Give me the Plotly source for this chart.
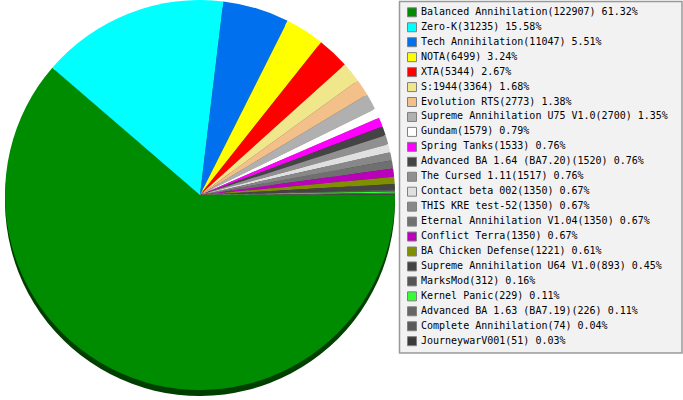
import plotly.graph_objects as go

names = ["Balanced Annihilation", "Zero-K", "Tech Annihilation", "NOTA", "XTA", "S:1944",
         "Evolution RTS", "Supreme Annihilation U75 V1.0", "Gundam", "Spring Tanks",
         "Advanced BA 1.64 (BA7.20)", "The Cursed 1.11", "Contact beta 002", "THIS KRE test-52",
         "Eternal Annihilation V1.04", "Conflict Terra", "BA Chicken Defense",
         "Supreme Annihilation U64 V1.0", "MarksMod", "Kernel Panic", "Advanced BA 1.63 (BA7.19)",
         "Complete Annihilation", "JourneywarV001"]
counts = [122907, 31235, 11047, 6499, 5344, 3364, 2773, 2700, 1579, 1533, 1520, 1517, 1350,
          1350, 1350, 1350, 1221, 893, 312, 229, 226, 74, 51]
percents = ["61.32%", "15.58%", "5.51%", "3.24%", "2.67%", "1.68%", "1.38%", "1.35%", "0.79%",
            "0.76%", "0.76%", "0.76%", "0.67%", "0.67%", "0.67%", "0.67%", "0.61%", "0.45%",
            "0.16%", "0.11%", "0.11%", "0.04%", "0.03%"]
colors = ["#008c00", "#00ffff", "#0070ee", "#ffff00", "#ff0000", "#f0e68c", "#f4c08a", "#b0b0b0",
          "#ffffff", "#ff00ff", "#444444", "#909090", "#e0e0e0", "#888888", "#707070", "#bb00bb",
          "#7f8f00", "#444444", "#555555", "#33ff33", "#666666", "#5a5a5a", "#3a3a3a"]


def darken(c, f=0.45):
    r, g, b = int(c[1:3], 16), int(c[3:5], 16), int(c[5:7], 16)
    return "#%02x%02x%02x" % (int(r * f), int(g * f), int(b * f))


W, H = 683, 400
labels = [f"{n}({c}) {p}" for n, c, p in zip(names, counts, percents)]

fig = go.Figure()

# depth of the pie
fig.add_trace(go.Pie(
    labels=names, values=counts, sort=False, direction="clockwise", rotation=90,
    marker=dict(colors=[darken(c) for c in colors], line=dict(width=0)),
    textinfo="none", hoverinfo="skip", showlegend=False,
    domain=dict(x=[5 / W, 395 / W], y=[1 - 396 / H, 1 - 6 / H]),
))
# top face of the pie
fig.add_trace(go.Pie(
    labels=names, values=counts, sort=False, direction="clockwise", rotation=90,
    marker=dict(colors=colors, line=dict(width=0)),
    textinfo="none", showlegend=False,
    domain=dict(x=[5 / W, 395 / W], y=[1 - 390 / H, 1]),
))

idx = list(range(len(names)))
fig.add_trace(go.Scatter(
    x=[412] * len(names), y=idx, mode="markers",
    marker=dict(symbol="square", size=9, color=colors, line=dict(color="#808080", width=1)),
    xaxis="x", yaxis="y", showlegend=False, hoverinfo="skip",
))
fig.add_trace(go.Scatter(
    x=[421] * len(names), y=idx, mode="text", text=labels, textposition="middle right",
    textfont=dict(family="DejaVu Sans Mono", size=10, color="#000000"),
    xaxis="x", yaxis="y", showlegend=False, hoverinfo="skip",
))

step = 14.95
y0 = 12.3
fig.update_layout(
    width=W, height=H, margin=dict(l=0, r=0, t=0, b=0),
    paper_bgcolor="#ffffff", plot_bgcolor="rgba(0,0,0,0)",
    xaxis=dict(range=[0, W], domain=[0, 1], visible=False, fixedrange=True),
    yaxis=dict(range=[(H - y0) / step, -y0 / step], domain=[0, 1], visible=False, fixedrange=True),
    shapes=[dict(type="rect", xref="paper", yref="paper", x0=399.5 / W, x1=682 / W,
                 y0=1 - 353 / H, y1=1 - 1.5 / H, fillcolor="#f2f2f2",
                 line=dict(color="#999999", width=1.5), layer="below")],
    font=dict(family="DejaVu Sans Mono"),
)

fig.write_html("out.html", config={"displayModeBar": False},
               post_script="document.body.style.margin='0';")
